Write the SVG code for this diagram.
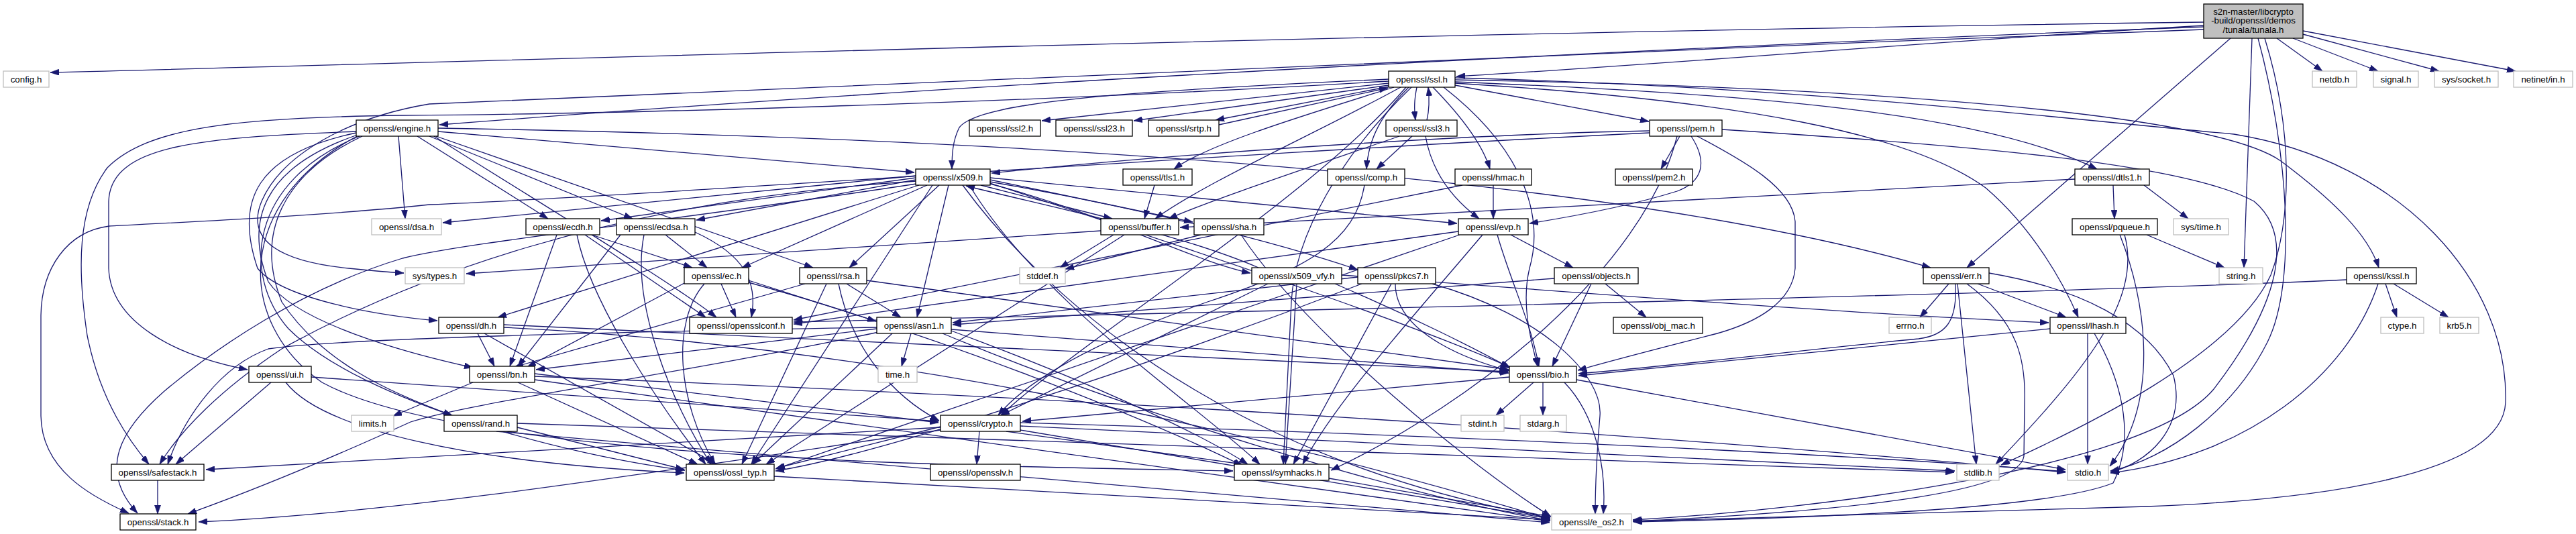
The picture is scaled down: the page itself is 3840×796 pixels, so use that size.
<svg xmlns="http://www.w3.org/2000/svg" width="3840" height="796" viewBox="0 0 3840 796">
<style>
.edges path{fill:none;stroke:#191970;stroke-width:1.3;marker-end:url(#ah)}
.n rect{fill:#fff;stroke:#000;stroke-width:1.3}
.g rect{fill:#fff;stroke:#bfbfbf;stroke-width:1.3}
.r rect{fill:#bfbfbf;stroke:#000;stroke-width:1.3}
text{font-family:"Liberation Sans",Arial,Helvetica,sans-serif;font-size:13.3px;text-anchor:middle;fill:#000}
</style>
<defs>
<marker id="ah" viewBox="0 0 10 7" refX="10" refY="3.5" markerWidth="13" markerHeight="9.1" markerUnits="userSpaceOnUse" orient="auto"><path d="M0,0L10,3.5L0,7z" fill="#191970" stroke="#191970" stroke-width="0.5"/></marker>
</defs>
<rect width="3840" height="796" fill="#fff"/>
<g id="edges" class="edges">
<path d="M3285,33 C2000,50 800,90 75,108"/>
<path d="M3285,38 C2900,60 2500,95 2171,114"/>
<path d="M3285,40 C2500,70 1500,120 655,186"/>
<path d="M3285,44 C2300,80 1200,130 640,155 C520,175 420,230 390,300 C365,360 420,390 520,400 C560,404 585,406 602,407"/>
<path d="M3325,57 L2932,399"/>
<path d="M3357,57 L3345,399"/>
<path d="M3394,57 L3462,106"/>
<path d="M3418,57 L3545,106"/>
<path d="M3433,51 L3636,106"/>
<path d="M3433,46 L3750,106"/>
<path d="M3366,57 C3410,220 3425,420 3380,510 C3330,610 3230,685 3146,702"/>
<path d="M3376,57 C3420,200 3415,330 3385,410 C3330,530 3100,640 2983,693"/>
<path d="M2070,124 L1553,180"/>
<path d="M2070,127 L1690,180"/>
<path d="M2071,129 L1812,179"/>
<path d="M1817,186 L2069,131"/>
<path d="M2112,130 C2108,150 2108,162 2110,179"/>
<path d="M2127,179 C2131,162 2131,148 2129,130"/>
<path d="M2070,118 C1700,135 1460,150 1430,190 C1420,210 1419,230 1419,252"/>
<path d="M2078,130 C1950,170 1800,215 1750,252"/>
<path d="M2088,130 C1960,200 1800,270 1722,326"/>
<path d="M2100,130 C2060,170 2040,205 2037,252"/>
<path d="M2136,130 C2180,175 2210,215 2221,252"/>
<path d="M2169,127 L2458,181"/>
<path d="M2169,122 C2600,140 2950,165 3126,252"/>
<path d="M2169,119 C2800,130 3300,170 3400,240 C3480,300 3530,350 3546,399"/>
<path d="M2169,116 C2700,130 3050,175 3330,200 C3580,240 3740,420 3735,600 C3730,710 3450,745 3200,755 C2900,765 2600,773 2434,777"/>
<path d="M2169,124 C2600,150 2850,200 2960,280 C3030,340 3075,420 3098,473"/>
<path d="M2152,130 C2280,230 2300,330 2280,400 C2268,450 2280,500 2292,546"/>
<path d="M2096,130 C1950,300 1620,500 1492,619"/>
<path d="M2070,121 C1500,155 900,170 600,172 C350,175 220,190 160,250 C115,310 115,400 130,500 C150,600 195,660 222,692"/>
<path d="M2104,130 C2000,230 1930,350 1925,450 C1920,560 1915,640 1913,692"/>
<path d="M2105,203 L2052,252"/>
<path d="M2086,203 C1950,250 1800,300 1742,326"/>
<path d="M2125,203 C2135,260 2170,300 2205,326"/>
<path d="M1721,276 L1706,326"/>
<path d="M2034,276 C2020,360 1950,400 1800,450 C1600,520 1520,580 1488,619"/>
<path d="M2226,276 L2226,326"/>
<path d="M2180,276 L1183,477"/>
<path d="M2504,203 L2476,252"/>
<path d="M2521,203 C2545,240 2540,270 2500,285 C2420,310 2330,325 2280,333"/>
<path d="M2459,195 C2200,200 1800,225 1478,258"/>
<path d="M2459,198 C1800,230 1000,290 640,305 C500,320 300,330 163,337 C100,345 62,400 61,470 L61,620 C62,700 135,740 192,765"/>
<path d="M2530,203 C2600,240 2672,280 2676,330 L2676,400 C2672,450 2620,480 2560,497 C2470,520 2400,538 2352,552"/>
<path d="M2567,193 C2900,215 3250,240 3360,300 C3420,350 3400,450 3300,580 C3200,700 2700,760 2434,775"/>
<path d="M2500,203 C2450,400 2200,600 1984,701"/>
<path d="M3556,423 L3573,473"/>
<path d="M3568,423 L3650,473"/>
<path d="M3498,417 C3000,440 1800,465 1183,480"/>
<path d="M3545,423 C3500,560 3350,680 3146,705"/>
<path d="M594,203 L604,326"/>
<path d="M622,203 L817,326"/>
<path d="M640,203 L943,326"/>
<path d="M650,203 L1212,399"/>
<path d="M653,196 L1363,257"/>
<path d="M653,191 C1500,205 2400,260 2878,399"/>
<path d="M647,203 C800,300 1000,420 1068,473"/>
<path d="M531,198 C380,230 350,300 384,400 C420,445 560,470 652,478"/>
<path d="M533,201 C390,250 365,330 400,420 C440,480 600,525 705,548"/>
<path d="M540,203 C420,260 380,350 420,450 C480,540 580,585 674,619"/>
<path d="M531,196 C300,205 165,215 162,300 L162,400 C165,480 260,530 369,551"/>
<path d="M536,203 C370,270 360,410 430,490 C540,600 850,680 1021,701"/>
<path d="M534,202 C350,300 350,480 480,570 C700,690 1500,695 1838,702"/>
<path d="M1476,274 C1650,320 1780,390 1864,407"/>
<path d="M1876,399 C1750,345 1550,305 1440,277"/>
<path d="M1476,271 C1700,310 1900,360 2024,402"/>
<path d="M1462,276 L1658,326"/>
<path d="M1476,268 L1778,331"/>
<path d="M1476,265 L2172,333"/>
<path d="M1365,262 L660,332"/>
<path d="M1365,265 L896,329"/>
<path d="M1365,268 L1038,328"/>
<path d="M1382,276 L1106,399"/>
<path d="M1400,276 L1266,399"/>
<path d="M1370,276 L742,473"/>
<path d="M1414,276 L1367,473"/>
<path d="M1366,274 C1000,330 700,360 600,385 C450,430 320,520 245,583 C180,640 145,700 205,765"/>
<path d="M1366,270 C900,300 600,420 420,520 C330,580 270,640 238,692"/>
<path d="M1445,276 C1550,450 1780,600 1878,692"/>
<path d="M1435,276 C1600,500 1900,700 2311,772"/>
<path d="M1476,273 C1800,380 2100,480 2250,547"/>
<path d="M1390,276 L1120,692"/>
<path d="M2000,410 C2400,440 2800,470 3054,481"/>
<path d="M1990,423 C2100,470 2200,520 2252,549"/>
<path d="M1890,423 L1492,619"/>
<path d="M1933,423 L1916,692"/>
<path d="M2024,413 L1420,481"/>
<path d="M2080,423 C2080,500 2200,540 2251,553"/>
<path d="M2135,423 C2300,470 2390,560 2385,620 C2380,680 2378,720 2378,766"/>
<path d="M2074,423 L1928,692"/>
<path d="M2030,423 C1700,550 1300,680 1156,702"/>
<path d="M2174,345 L1183,483"/>
<path d="M2176,350 L1156,699"/>
<path d="M2210,350 C2100,480 1990,600 1942,692"/>
<path d="M2232,350 C2252,420 2282,480 2294,546"/>
<path d="M2252,350 L2345,399"/>
<path d="M2393,423 L2454,473"/>
<path d="M2372,423 L2314,546"/>
<path d="M2317,415 L1420,484"/>
<path d="M1358,497 L1344,546"/>
<path d="M1405,497 C1700,620 2100,740 2311,776"/>
<path d="M1418,491 L2249,556"/>
<path d="M1310,495 C1000,560 700,600 612,629 C500,680 380,730 280,766"/>
<path d="M1307,488 C900,495 500,505 400,520 C330,545 275,620 250,692"/>
<path d="M1418,493 C1600,560 1780,640 1860,692"/>
<path d="M1330,497 L1122,692"/>
<path d="M1307,490 L799,551"/>
<path d="M2332,570 C2380,620 2395,700 2390,766"/>
<path d="M2350,566 L3079,700"/>
<path d="M2300,570 L2300,619"/>
<path d="M2286,570 L2230,619"/>
<path d="M2250,562 L1524,628"/>
<path d="M1521,635 L2914,702"/>
<path d="M1521,641 L2310,773"/>
<path d="M1521,630 C2200,650 2800,680 3079,703"/>
<path d="M1402,641 C1000,700 600,765 296,778"/>
<path d="M1402,637 C1000,660 600,685 307,700"/>
<path d="M1460,643 L1456,692"/>
<path d="M1402,636 L1157,698"/>
<path d="M1500,643 L1852,692"/>
<path d="M235,716 L235,766"/>
<path d="M1676,350 L1142,692"/>
<path d="M1660,350 L1580,399"/>
<path d="M1641,344 L695,408"/>
<path d="M1790,350 L1588,401"/>
<path d="M1850,350 C1950,500 2200,700 2312,770"/>
<path d="M751,488 C1400,520 2000,680 2311,774"/>
<path d="M751,484 L2248,554"/>
<path d="M722,497 L1068,692"/>
<path d="M712,497 L737,546"/>
<path d="M1262,423 L1343,473"/>
<path d="M1292,418 L2249,551"/>
<path d="M1250,423 C1270,520 1330,590 1400,627"/>
<path d="M1232,423 L1106,692"/>
<path d="M1200,423 L767,547"/>
<path d="M1075,423 L1097,473"/>
<path d="M1116,418 L1306,479"/>
<path d="M1116,421 C1400,500 1700,620 1852,694"/>
<path d="M1050,423 C1000,480 1010,600 1066,692"/>
<path d="M1022,421 L786,547"/>
<path d="M872,350 L1052,473"/>
<path d="M882,350 L1032,399"/>
<path d="M860,350 C880,450 980,600 1052,692"/>
<path d="M830,350 L760,546"/>
<path d="M1036,346 C1110,380 1130,420 1120,473"/>
<path d="M992,350 L1054,399"/>
<path d="M960,350 C940,450 1000,600 1060,692"/>
<path d="M925,350 L772,546"/>
<path d="M797,566 L2310,777"/>
<path d="M797,561 C1800,600 2600,660 3079,704"/>
<path d="M772,570 L1040,692"/>
<path d="M797,557 L1399,630"/>
<path d="M705,570 L586,620"/>
<path d="M771,631 L2913,704"/>
<path d="M771,637 L1020,700"/>
<path d="M740,643 L2310,779"/>
<path d="M464,562 L1399,628"/>
<path d="M404,570 L262,692"/>
<path d="M426,570 C480,640 700,690 1020,705"/>
<path d="M2905,423 L2862,473"/>
<path d="M2918,423 L2946,692"/>
<path d="M2948,423 L3080,473"/>
<path d="M2915,423 C2918,480 2900,500 2860,505 C2700,520 2500,545 2353,557"/>
<path d="M2932,423 C3010,480 3020,540 3018,600 L3017,680 C3010,730 2800,760 2435,777"/>
<path d="M2965,407 C3100,430 3200,480 3240,560 C3260,640 3200,690 3146,704"/>
<path d="M3112,497 L3112,692"/>
<path d="M3122,497 C3170,580 3180,660 3150,720 C3050,760 2700,772 2435,778"/>
<path d="M3056,490 L2353,560"/>
<path d="M3160,350 C3200,450 3220,600 3145,695"/>
<path d="M3167,350 C3195,450 3100,560 2975,692"/>
<path d="M3200,350 L3316,399"/>
<path d="M3150,276 L3152,326"/>
<path d="M3196,276 L3262,326"/>
<path d="M3093,267 L1759,339"/>
<path d="M1981,713 L2311,770"/>
<path d="M1154,710 L2311,775"/>
</g>
<g id="tunala" class="r"><rect x="3285" y="6" width="148" height="51"/><text x="3359" y="21.5">s2n-master/libcrypto</text><text x="3359" y="35">-build/openssl/demos</text><text x="3359" y="48.5">/tunala/tunala.h</text></g>
<g id="config" class="g"><rect x="5" y="106" width="68" height="24"/><text x="39" y="122.5">config.h</text></g>
<g id="ssl" class="n"><rect x="2070" y="106" width="99" height="24"/><text x="2119.5" y="122.5">openssl/ssl.h</text></g>
<g id="netdb" class="g"><rect x="3447" y="106" width="66" height="24"/><text x="3480" y="122.5">netdb.h</text></g>
<g id="signal" class="g"><rect x="3538" y="106" width="67" height="24"/><text x="3571.5" y="122.5">signal.h</text></g>
<g id="socket" class="g"><rect x="3629" y="106" width="95" height="24"/><text x="3676.5" y="122.5">sys/socket.h</text></g>
<g id="netinet" class="g"><rect x="3747" y="106" width="88" height="24"/><text x="3791" y="122.5">netinet/in.h</text></g>
<g id="engine" class="n"><rect x="531" y="179" width="122" height="24"/><text x="592" y="195.5">openssl/engine.h</text></g>
<g id="ssl2" class="n"><rect x="1445" y="179" width="106" height="24"/><text x="1498" y="195.5">openssl/ssl2.h</text></g>
<g id="ssl23" class="n"><rect x="1574" y="179" width="114" height="24"/><text x="1631" y="195.5">openssl/ssl23.h</text></g>
<g id="srtp" class="n"><rect x="1712" y="179" width="105" height="24"/><text x="1764.5" y="195.5">openssl/srtp.h</text></g>
<g id="ssl3" class="n"><rect x="2066" y="179" width="106" height="24"/><text x="2119" y="195.5">openssl/ssl3.h</text></g>
<g id="pem" class="n"><rect x="2459" y="179" width="108" height="24"/><text x="2513" y="195.5">openssl/pem.h</text></g>
<g id="x509" class="n"><rect x="1365" y="252" width="111" height="24"/><text x="1420.5" y="268.5">openssl/x509.h</text></g>
<g id="tls1" class="n"><rect x="1674" y="252" width="103" height="24"/><text x="1725.5" y="268.5">openssl/tls1.h</text></g>
<g id="comp" class="n"><rect x="1979" y="252" width="115" height="24"/><text x="2036.5" y="268.5">openssl/comp.h</text></g>
<g id="hmac" class="n"><rect x="2169" y="252" width="114" height="24"/><text x="2226" y="268.5">openssl/hmac.h</text></g>
<g id="pem2" class="n"><rect x="2408" y="252" width="115" height="24"/><text x="2465.5" y="268.5">openssl/pem2.h</text></g>
<g id="dtls1" class="n"><rect x="3093" y="252" width="111" height="24"/><text x="3148.5" y="268.5">openssl/dtls1.h</text></g>
<g id="dsa" class="g"><rect x="554" y="326" width="104" height="24"/><text x="606" y="342.5">openssl/dsa.h</text></g>
<g id="ecdh" class="n"><rect x="784" y="326" width="110" height="24"/><text x="839" y="342.5">openssl/ecdh.h</text></g>
<g id="ecdsa" class="n"><rect x="919" y="326" width="117" height="24"/><text x="977.5" y="342.5">openssl/ecdsa.h</text></g>
<g id="buffer" class="n"><rect x="1641" y="326" width="116" height="24"/><text x="1699" y="342.5">openssl/buffer.h</text></g>
<g id="sha" class="n"><rect x="1780" y="326" width="104" height="24"/><text x="1832" y="342.5">openssl/sha.h</text></g>
<g id="evp" class="n"><rect x="2174" y="326" width="104" height="24"/><text x="2226" y="342.5">openssl/evp.h</text></g>
<g id="pqueue" class="n"><rect x="3089" y="326" width="127" height="24"/><text x="3152.5" y="342.5">openssl/pqueue.h</text></g>
<g id="systime" class="g"><rect x="3240" y="326" width="82" height="24"/><text x="3281" y="342.5">sys/time.h</text></g>
<g id="systypes" class="g"><rect x="604" y="399" width="88" height="24"/><text x="648" y="415.5">sys/types.h</text></g>
<g id="ec" class="n"><rect x="1020" y="399" width="96" height="24"/><text x="1068" y="415.5">openssl/ec.h</text></g>
<g id="rsa" class="n"><rect x="1192" y="399" width="100" height="24"/><text x="1242" y="415.5">openssl/rsa.h</text></g>
<g id="stddef" class="g"><rect x="1520" y="399" width="68" height="24"/><text x="1554" y="415.5">stddef.h</text></g>
<g id="x509vfy" class="n"><rect x="1866" y="399" width="134" height="24"/><text x="1933" y="415.5">openssl/x509_vfy.h</text></g>
<g id="pkcs7" class="n"><rect x="2024" y="399" width="116" height="24"/><text x="2082" y="415.5">openssl/pkcs7.h</text></g>
<g id="objects" class="n"><rect x="2317" y="399" width="125" height="24"/><text x="2379.5" y="415.5">openssl/objects.h</text></g>
<g id="err" class="n"><rect x="2867" y="399" width="98" height="24"/><text x="2916" y="415.5">openssl/err.h</text></g>
<g id="string" class="g"><rect x="3308" y="399" width="65" height="24"/><text x="3340.5" y="415.5">string.h</text></g>
<g id="kssl" class="n"><rect x="3498" y="399" width="104" height="24"/><text x="3550" y="415.5">openssl/kssl.h</text></g>
<g id="dh" class="n"><rect x="654" y="473" width="97" height="24"/><text x="702.5" y="489.5">openssl/dh.h</text></g>
<g id="conf" class="n"><rect x="1028" y="473" width="153" height="24"/><text x="1104.5" y="489.5">openssl/opensslconf.h</text></g>
<g id="asn1" class="n"><rect x="1307" y="473" width="111" height="24"/><text x="1362.5" y="489.5">openssl/asn1.h</text></g>
<g id="objmac" class="n"><rect x="2405" y="473" width="133" height="24"/><text x="2471.5" y="489.5">openssl/obj_mac.h</text></g>
<g id="errno" class="g"><rect x="2816" y="473" width="63" height="24"/><text x="2847.5" y="489.5">errno.h</text></g>
<g id="lhash" class="n"><rect x="3056" y="473" width="113" height="24"/><text x="3112.5" y="489.5">openssl/lhash.h</text></g>
<g id="ctype" class="g"><rect x="3549" y="473" width="64" height="24"/><text x="3581" y="489.5">ctype.h</text></g>
<g id="krb5" class="g"><rect x="3637" y="473" width="58" height="24"/><text x="3666" y="489.5">krb5.h</text></g>
<g id="ui" class="n"><rect x="371" y="546" width="93" height="24"/><text x="417.5" y="562.5">openssl/ui.h</text></g>
<g id="bn" class="n"><rect x="700" y="546" width="97" height="24"/><text x="748.5" y="562.5">openssl/bn.h</text></g>
<g id="time" class="g"><rect x="1309" y="546" width="58" height="24"/><text x="1338" y="562.5">time.h</text></g>
<g id="bio" class="n"><rect x="2250" y="546" width="100" height="24"/><text x="2300" y="562.5">openssl/bio.h</text></g>
<g id="limits" class="g"><rect x="524" y="619" width="63" height="24"/><text x="555.5" y="635.5">limits.h</text></g>
<g id="rand" class="n"><rect x="662" y="619" width="109" height="24"/><text x="716.5" y="635.5">openssl/rand.h</text></g>
<g id="crypto" class="n"><rect x="1402" y="619" width="119" height="24"/><text x="1461.5" y="635.5">openssl/crypto.h</text></g>
<g id="stdint" class="g"><rect x="2178" y="619" width="64" height="24"/><text x="2210" y="635.5">stdint.h</text></g>
<g id="stdarg" class="g"><rect x="2266" y="619" width="69" height="24"/><text x="2300.5" y="635.5">stdarg.h</text></g>
<g id="safestack" class="n"><rect x="166" y="692" width="138" height="24"/><text x="235" y="708.5">openssl/safestack.h</text></g>
<g id="ossltyp" class="n"><rect x="1023" y="692" width="131" height="24"/><text x="1088.5" y="708.5">openssl/ossl_typ.h</text></g>
<g id="opensslv" class="n"><rect x="1387" y="692" width="134" height="24"/><text x="1454" y="708.5">openssl/opensslv.h</text></g>
<g id="symhacks" class="n"><rect x="1840" y="692" width="141" height="24"/><text x="1910.5" y="708.5">openssl/symhacks.h</text></g>
<g id="stdlib" class="g"><rect x="2917" y="692" width="63" height="24"/><text x="2948.5" y="708.5">stdlib.h</text></g>
<g id="stdio" class="g"><rect x="3082" y="692" width="61" height="24"/><text x="3112.5" y="708.5">stdio.h</text></g>
<g id="stack" class="n"><rect x="179" y="766" width="113" height="24"/><text x="235.5" y="782.5">openssl/stack.h</text></g>
<g id="eos2" class="g"><rect x="2313" y="766" width="119" height="24"/><text x="2372.5" y="782.5">openssl/e_os2.h</text></g>
</svg>
